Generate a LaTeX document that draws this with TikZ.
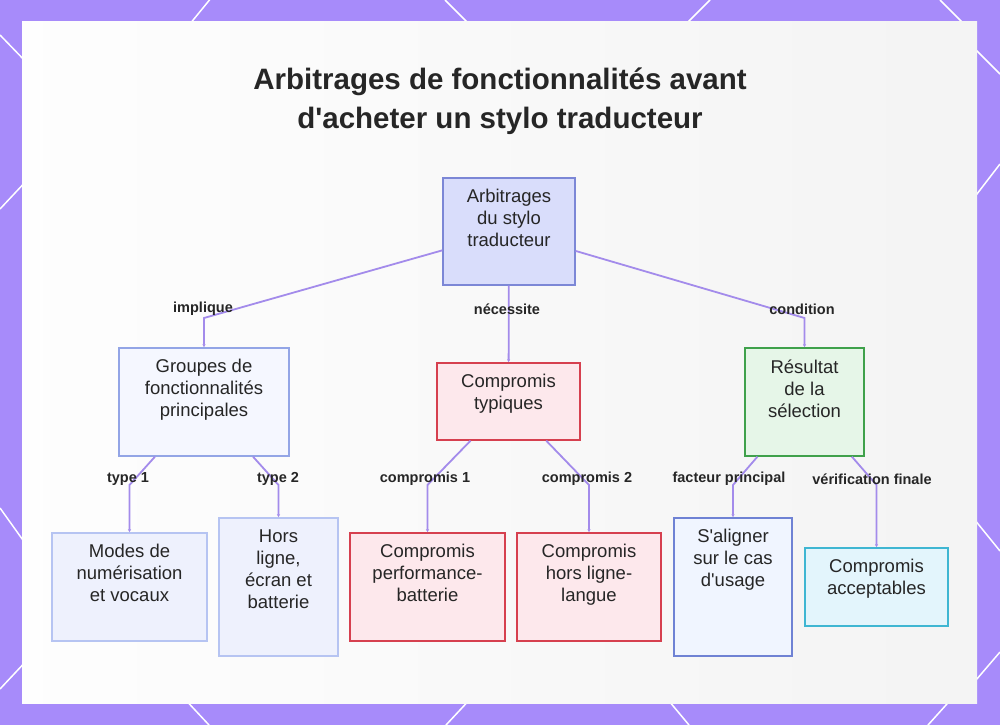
\documentclass[tikz,border=0pt]{standalone}
\usepackage{fontspec}
\setmainfont{Liberation Sans}
\usepackage{xcolor}
\usetikzlibrary{arrows.meta,positioning}
\definecolor{bgpurple}{HTML}{A78BFA}
\definecolor{linkc}{HTML}{A38BEB}
\definecolor{ink}{HTML}{262626}
\newcommand{\ap}{\textquotesingle}
\tikzset{
  box/.style={draw, line width=1.3pt, inner sep=0pt},
  rootbox/.style={box, fill={rgb,255:red,217;green,221;blue,251}, draw={rgb,255:red,124;green,135;blue,214}},
  bluebox/.style={box, fill={rgb,255:red,245;green,247;blue,255}, draw={rgb,255:red,147;green,165;blue,230}},
  palebox/.style={box, fill={rgb,255:red,238;green,241;blue,253}, draw={rgb,255:red,182;green,196;blue,242}},
  redbox/.style={box, fill={rgb,255:red,253;green,232;blue,236}, draw={rgb,255:red,214;green,64;blue,79}},
  greenbox/.style={box, fill={rgb,255:red,230;green,246;blue,232}, draw={rgb,255:red,63;green,161;blue,75}},
  navybox/.style={box, fill={rgb,255:red,240;green,245;blue,255}, draw={rgb,255:red,111;green,130;blue,212}},
  cyanbox/.style={box, fill={rgb,255:red,227;green,245;blue,252}, draw={rgb,255:red,63;green,182;blue,210}},
  txt/.style={anchor=north, align=center, inner sep=0pt, text=ink, font=\fontsize{18.5}{22}\selectfont},
  lbl/.style={inner sep=0pt, text=ink, font=\bfseries\fontsize{14.5}{17}\selectfont},
  link/.style={draw=linkc, line width=1.8pt, -{Latex[length=3pt,width=3.5pt]}},
  deco/.style={draw=white, line width=1.5pt}
}

\begin{document}
\begin{tikzpicture}[x=1pt,y=-1pt]
    \useasboundingbox (0,0) rectangle (1000,725);
    \fill[bgpurple] (0,0) rectangle (1000,725);
    \draw[deco] (0,35) -- (30,66);
    \draw[deco] (185,30) -- (216,-8);
    \draw[deco] (445,0) -- (475,30);
    \draw[deco] (680,30) -- (710,0);
    \draw[deco] (940,0) -- (970,30);
    \draw[deco] (0,209) -- (30,177);
    \draw[deco] (0,508) -- (30,550);
    \draw[deco] (0,689) -- (30,657);
    \draw[deco] (970,44) -- (1000,74);
    \draw[deco] (970,203) -- (1000,164);
    \draw[deco] (970,514) -- (1000,551);
    \draw[deco] (970,687) -- (1000,652);
    \draw[deco] (181,695) -- (209,725);
    \draw[deco] (474,695) -- (446,725);
    \draw[deco] (664,695) -- (689,725);
    \draw[deco] (955,695) -- (928,725);
    \shade[left color=white!99!gray, right color=gray!9] (22,22) rectangle (977,703);

    \node (T) [align=center, text=ink, font=\bfseries\fontsize{29.5}{39}\selectfont] at (500,101)
    {Arbitrages de fonctionnalités avant\\d\ap acheter un stylo traducteur};

    \node (R) [rootbox, minimum width=132pt, minimum height=107pt] at (509,231.5) {};
    \node (G) [bluebox, minimum width=170pt, minimum height=108pt] at (204,402) {};
    \node (C) [redbox, minimum width=143pt, minimum height=77pt] at (508.5,401.5) {};
    \node (S) [greenbox, minimum width=119pt, minimum height=108pt] at (804.5,402) {};
    \node (M) [palebox, minimum width=155pt, minimum height=108pt] at (129.5,587) {};
    \node (H) [palebox, minimum width=119pt, minimum height=138pt] at (278.5,587) {};
    \node (P) [redbox, minimum width=155pt, minimum height=108pt] at (427.5,587) {};
    \node (L) [redbox, minimum width=144pt, minimum height=108pt] at (589,587) {};
    \node (A) [navybox, minimum width=118pt, minimum height=138pt] at (733,587) {};
    \node (K) [cyanbox, minimum width=143pt, minimum height=78pt] at (876.5,587) {};

    \node (Rt) [txt] at ([yshift=-12pt]R.north) {Arbitrages\\du stylo\\traducteur};
    \node (Gt) [txt] at ([yshift=-12pt]G.north) {Groupes de\\fonctionnalités\\principales};
    \node (Ct) [txt] at ([yshift=-12pt]C.north) {Compromis\\typiques};
    \node (St) [txt] at ([yshift=-12pt]S.north) {Résultat\\de la\\sélection};
    \node (Mt) [txt] at ([yshift=-12pt]M.north) {Modes de\\numérisation\\et vocaux};
    \node (Ht) [txt] at ([yshift=-12pt]H.north) {Hors\\ligne,\\écran et\\batterie};
    \node (Pt) [txt] at ([yshift=-12pt]P.north) {Compromis\\performance-\\batterie};
    \node (Lt) [txt] at ([yshift=-12pt]L.north) {Compromis\\hors ligne-\\langue};
    \node (At) [txt] at ([yshift=-12pt]A.north) {S\ap aligner\\sur le cas\\d\ap usage};
    \node (Kt) [txt] at ([yshift=-12pt]K.north) {Compromis\\acceptables};

    \coordinate (J1) at (204,318);
    \coordinate (J2) at (804.5,318);
    \coordinate (J3) at (129.5,485);
    \coordinate (J4) at (278.5,485);
    \coordinate (J5) at (427.5,485);
    \coordinate (J6) at (589,485);
    \coordinate (J7) at (733,485);
    \coordinate (J8) at (876.5,485);

    \draw [link] (R) -- (J1) -- (G);
    \draw [link] (R) -- (C);
    \draw [link] (R) -- (J2) -- (S);
    \draw [link] (G) -- (J3) -- (M);
    \draw [link] (G) -- (J4) -- (H);
    \draw [link] (C) -- (J5) -- (P);
    \draw [link] (C) -- (J6) -- (L);
    \draw [link] (S) -- (J7) -- (A);
    \draw [link] (S) -- (J8) -- (K);

    \node (l1) [lbl] at (203,309) {implique};
    \node (l2) [lbl] at (507,309) {nécessite};
    \node (l3) [lbl] at (802,309) {condition};
    \node (l4) [lbl] at (128,479) {type 1};
    \node (l5) [lbl] at (278,479) {type 2};
    \node (l6) [lbl] at (425,479) {compromis 1};
    \node (l7) [lbl] at (587,479) {compromis 2};
    \node (l8) [lbl] at (729,479) {facteur principal};
    \node (l9) [lbl] at (872,479) {vérification finale};
\end{tikzpicture}
\end{document}
